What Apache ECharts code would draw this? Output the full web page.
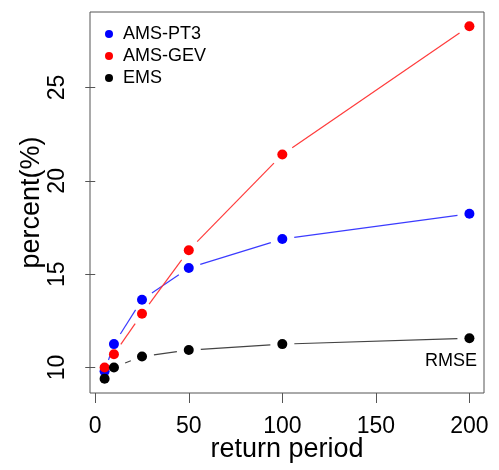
<!DOCTYPE html>
<html>
<head>
<meta charset="utf-8">
<script src="https://cdn.jsdelivr.net/npm/echarts@6/dist/echarts.min.js"></script>
<style>
  html, body { margin: 0; padding: 0; background: #fff; }
  #chart { width: 499px; height: 470px; }
</style>
</head>
<body>
<div id="chart"></div>
<script>
// return periods and values
var periods = [5, 10, 25, 50, 100, 200];
var pt3 = [9.79, 11.25, 13.63, 15.33, 16.88, 18.24];
var gev = [10.0, 10.71, 12.88, 16.28, 21.41, 28.29];
var ems = [9.39, 10.0, 10.59, 10.93, 11.25, 11.56];
var xTicks = [0, 50, 100, 150, 200];
var yTicks = [10, 15, 20, 25];

var names = ['AMS-PT3', 'AMS-GEV', 'EMS'];
var colors = ['#0000ff', '#ff0000', '#000000'];
var lineColors = ['#3b3bff', '#ff3b3b', '#444444'];
var values = [pt3, gev, ems];

var font = 'Liberation Sans, Arial, sans-serif';
var GAP = 12; // R type="b" gap around points, px

function pairs(ys) {
  return periods.map(function (x, i) { return [x, ys[i]]; });
}
function segments(ys) {
  var s = [];
  for (var i = 0; i < periods.length - 1; i++) {
    s.push([periods[i], ys[i], periods[i + 1], ys[i + 1]]);
  }
  return s;
}

var series = [];
values.forEach(function (ys, k) {
  series.push({
    type: 'custom',
    name: names[k] + ' line',
    data: segments(ys),
    z: 2,
    silent: true,
    renderItem: function (params, api) {
      var a = api.coord([api.value(0), api.value(1)]);
      var b = api.coord([api.value(2), api.value(3)]);
      var dx = b[0] - a[0], dy = b[1] - a[1];
      var len = Math.sqrt(dx * dx + dy * dy);
      if (len <= 2 * GAP) return null;
      var ux = dx / len, uy = dy / len;
      return {
        type: 'line',
        shape: {
          x1: a[0] + ux * GAP, y1: a[1] + uy * GAP,
          x2: b[0] - ux * GAP, y2: b[1] - uy * GAP
        },
        style: { stroke: lineColors[k], lineWidth: 1.2 }
      };
    }
  });
});
values.forEach(function (ys, k) {
  series.push({
    type: 'scatter',
    name: names[k],
    data: pairs(ys),
    symbol: 'circle',
    symbolSize: 10,
    z: 3 + k,
    itemStyle: { color: colors[k], opacity: 1 }
  });
});

var chart = echarts.init(document.getElementById('chart'));
chart.setOption({
  animation: false,
  backgroundColor: '#fff',
  grid: {
    left: 90, top: 12, right: 15, bottom: 77,
    show: true, borderColor: '#555', borderWidth: 1,
    containLabel: false, outerBoundsMode: 'none'
  },
  legend: {
    orient: 'vertical',
    left: 100, top: 20,
    itemWidth: 8, itemHeight: 8, itemGap: 4,
    icon: 'circle',
    data: names,
    textStyle: { fontFamily: font, fontSize: 18, color: '#000', padding: [0, 0, 0, 5] }
  },
  xAxis: {
    type: 'value',
    min: -2.8, max: 207.8,
    name: 'return period',
    nameLocation: 'middle',
    nameGap: 43,
    nameMoveOverlap: false,
    nameTextStyle: { fontFamily: font, fontSize: 27, color: '#000' },
    axisLine: { show: false },
    splitLine: { show: false },
    axisTick: { show: true, inside: false, length: 10, customValues: xTicks, lineStyle: { color: '#555' } },
    axisLabel: { customValues: xTicks, margin: 22, fontFamily: font, fontSize: 23, color: '#000' }
  },
  yAxis: {
    type: 'value',
    min: 8.63, max: 29.05,
    name: 'percent(%)',
    nameLocation: 'middle',
    nameGap: 45,
    nameRotate: 90,
    nameMoveOverlap: false,
    nameTextStyle: { fontFamily: font, fontSize: 27, color: '#000' },
    axisLine: { show: false },
    splitLine: { show: false },
    axisTick: { show: true, inside: false, length: 10, customValues: yTicks, lineStyle: { color: '#555' } },
    axisLabel: { customValues: yTicks, rotate: 90, margin: 21, fontFamily: font, fontSize: 23, color: '#000' }
  },
  graphic: [{
    type: 'text',
    right: 22, top: 352,
    style: { text: 'RMSE', fontFamily: font, fontSize: 18, fill: '#000' }
  }],
  series: series
});
</script>
</body>
</html>
